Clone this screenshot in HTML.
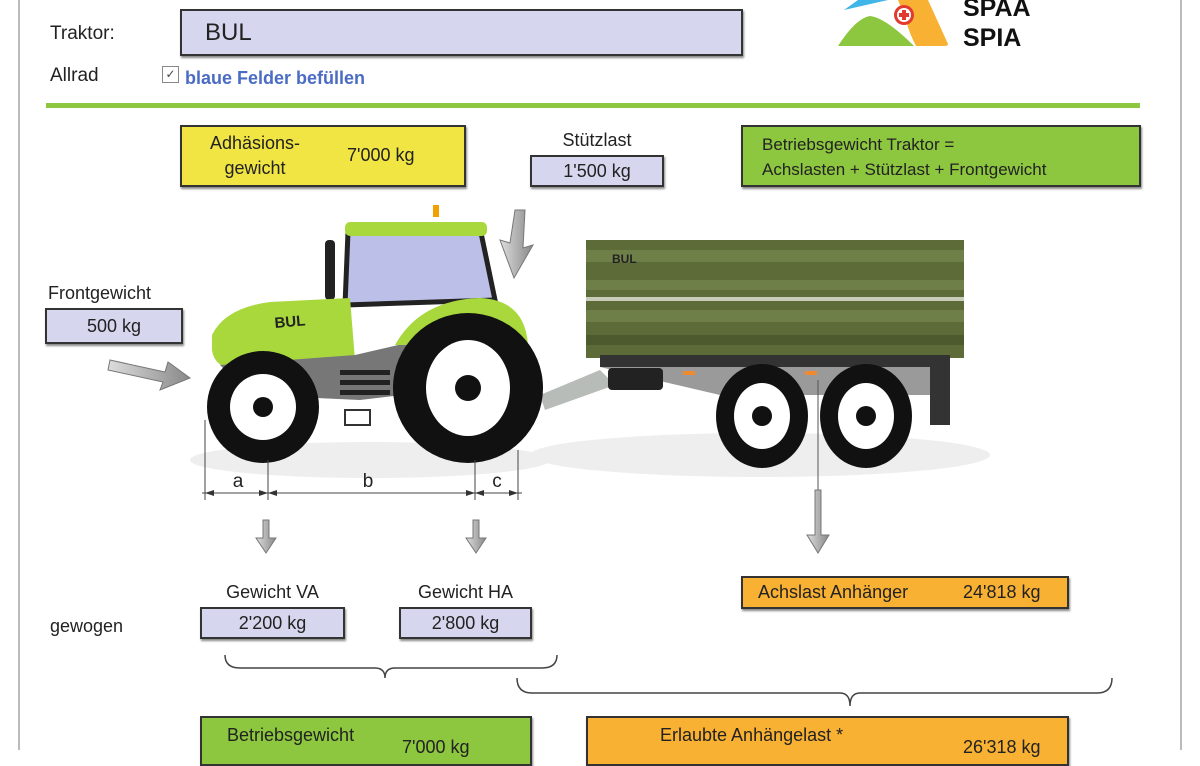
<!DOCTYPE html>
<html><head><meta charset="utf-8"><style>
body{margin:0;width:1200px;height:750px;background:#fff;overflow:hidden;position:relative;font-family:"Liberation Sans","DejaVu Sans",sans-serif;color:#222}
.a{position:absolute}
.box{position:absolute;border:2px solid #333;box-sizing:border-box;box-shadow:1px 2px 2px #888}
.lav{background:#d6d6ee}
.t{position:absolute;font-size:18px;white-space:nowrap}
.c{text-align:center}
</style></head><body>
<div class="a" style="left:18px;top:0;width:1160px;height:750px;border-left:2px solid #bbb;border-right:2px solid #bbb"></div>
<div class="t" style="left:50px;top:23px;font-size:19px">Traktor:</div>
<div class="box lav" style="left:180px;top:9px;width:563px;height:47px"></div>
<div class="t" style="left:205px;top:19px;font-size:24px">BUL</div>
<div class="t" style="left:50px;top:65px;font-size:19px">Allrad</div>
<div class="a" style="left:162px;top:66px;width:15px;height:15px;border:1px solid #888;font-size:12px;line-height:15px;text-align:center;color:#444">✓</div>
<div class="t" style="left:185px;top:68px;color:#4a6cc4;font-weight:bold;font-size:18px">blaue Felder befüllen</div>
<svg class="a" style="left:836px;top:0" width="220" height="50">
<path d="M2,46 Q20,18 34,16 Q50,18 78,46 Z" fill="#8dc63f"/>
<polygon points="8,10 22,0 52,0" fill="#3fb5e8"/>
<path d="M62,0 L92,0 L112,44 Q112,46 108,46 L80,46 Q72,30 70,20 Z" fill="#f8b133"/>
<circle cx="68" cy="15" r="10" fill="#e23a2e"/><circle cx="68" cy="15" r="7" fill="#fff"/>
<rect x="66" y="10" width="4" height="10" fill="#e23a2e"/><rect x="63" y="13" width="10" height="4" fill="#e23a2e"/>
<text x="127" y="16" font-family="Liberation Sans" font-weight="bold" font-size="25" fill="#111">SPAA</text>
<text x="127" y="46" font-family="Liberation Sans" font-weight="bold" font-size="25" fill="#111">SPIA</text>
</svg>
<div class="a" style="left:46px;top:103px;width:1094px;height:5px;background:#8dc63f"></div>

<div class="box" style="left:180px;top:125px;width:286px;height:62px;background:#f0e543"></div>
<div class="t c" style="left:200px;top:131px;width:110px;line-height:25px">Adhäsions-<br>gewicht</div>
<div class="t" style="left:347px;top:145px">7'000 kg</div>
<div class="t c" style="left:530px;top:130px;width:134px">Stützlast</div>
<div class="box lav" style="left:530px;top:155px;width:134px;height:32px"></div>
<div class="t c" style="left:530px;top:161px;width:134px">1'500 kg</div>
<div class="box" style="left:741px;top:125px;width:400px;height:62px;background:#8dc63f"></div>
<div class="t" style="left:762px;top:132px;font-size:17px;line-height:25px">Betriebsgewicht Traktor =<br>Achslasten + Stützlast + Frontgewicht</div>

<div class="t" style="left:48px;top:283px">Frontgewicht</div>
<div class="box lav" style="left:45px;top:308px;width:138px;height:36px"></div>
<div class="t c" style="left:45px;top:316px;width:138px">500 kg</div>

<svg class="a" style="left:0;top:0" width="1200" height="750">
<defs><linearGradient id="ga" x1="0" x2="1"><stop offset="0" stop-color="#ddd"/><stop offset="1" stop-color="#888"/></linearGradient></defs>
<polygon points="110,360 165,372 168,362 190,378 160,390 163,382 108,370" fill="url(#ga)" stroke="#777"/>
<polygon points="515,210 525,210 523,248 533,245 514,278 500,240 510,243" fill="url(#ga)" stroke="#777"/>
<ellipse cx="760" cy="455" rx="230" ry="22" fill="#eee"/>
<ellipse cx="370" cy="460" rx="180" ry="18" fill="#eee"/>
<rect x="586" y="240" width="378" height="118" fill="#5c6b38"/>
<rect x="586" y="250" width="378" height="12" fill="#6f7f48"/>
<rect x="586" y="280" width="378" height="10" fill="#6f7f48"/>
<rect x="586" y="297" width="378" height="4" fill="#c8ccb8"/>
<rect x="586" y="310" width="378" height="12" fill="#6f7f48"/>
<rect x="586" y="335" width="378" height="10" fill="#4d5a2e"/>
<text x="612" y="263" font-family="Liberation Sans" font-weight="bold" font-size="12" fill="#222">BUL</text>
<rect x="600" y="355" width="350" height="12" fill="#333"/>
<polygon points="600,367 950,367 940,395 720,395" fill="#9a9a9a"/>
<polygon points="540,395 600,370 615,385 545,410" fill="#b8bcb8"/>
<rect x="608" y="368" width="55" height="22" rx="4" fill="#222"/>
<rect x="930" y="365" width="20" height="60" fill="#333"/>
<rect x="683" y="371" width="12" height="4" fill="#f08a30"/><rect x="805" y="371" width="12" height="4" fill="#f08a30"/>
<ellipse cx="762" cy="416" rx="46" ry="52" fill="#111"/><ellipse cx="762" cy="416" rx="28" ry="33" fill="#fff"/><circle cx="762" cy="416" r="10" fill="#111"/>
<ellipse cx="866" cy="416" rx="46" ry="52" fill="#111"/><ellipse cx="866" cy="416" rx="28" ry="33" fill="#fff"/><circle cx="866" cy="416" r="10" fill="#111"/>
<line x1="818" y1="380" x2="818" y2="490" stroke="#555" stroke-width="1"/>
<rect x="325" y="240" width="10" height="60" rx="4" fill="#222"/>
<polygon points="348,232 480,228 495,300 345,305" fill="#bcc0e8" stroke="#222" stroke-width="5"/>
<rect x="345" y="222" width="142" height="14" rx="5" fill="#a8d83c"/>
<rect x="433" y="205" width="6" height="12" fill="#f0a000"/>
<path d="M212,335 Q225,308 270,302 L350,298 L355,360 L240,372 Q214,368 212,350 Z" fill="#a8d83c"/>
<polygon points="220,365 355,355 420,340 520,330 530,380 360,400 250,395" fill="#777"/>
<path d="M395,345 Q420,300 480,298 Q525,300 528,345 Z" fill="#a8d83c"/>
<rect x="340" y="380" width="50" height="5" fill="#222"/><rect x="340" y="390" width="50" height="5" fill="#222"/><rect x="340" y="370" width="50" height="5" fill="#222"/>
<rect x="345" y="410" width="25" height="15" fill="none" stroke="#333" stroke-width="2"/>
<text x="275" y="328" font-family="Liberation Sans" font-weight="bold" font-size="15" fill="#222" transform="rotate(-5 275 328)">BUL</text>
<circle cx="263" cy="407" r="56" fill="#111"/><circle cx="263" cy="407" r="33" fill="#fff"/><circle cx="263" cy="407" r="10" fill="#111"/>
<circle cx="468" cy="388" r="75" fill="#111"/><ellipse cx="468" cy="388" rx="42" ry="48" fill="#fff"/><circle cx="468" cy="388" r="13" fill="#111"/>
<g stroke="#444" stroke-width="1" fill="none">
<line x1="205" y1="420" x2="205" y2="500"/><line x1="268" y1="460" x2="268" y2="500"/>
<line x1="475" y1="460" x2="475" y2="500"/><line x1="518" y1="450" x2="518" y2="500"/>
<line x1="202" y1="493" x2="522" y2="493"/>
</g>
<g fill="#333">
<polygon points="205,493 214,490 214,496"/><polygon points="268,493 259,490 259,496"/><polygon points="268,493 277,490 277,496"/>
<polygon points="475,493 466,490 466,496"/><polygon points="475,493 484,490 484,496"/><polygon points="518,493 509,490 509,496"/>
</g>
<text x="238" y="487" font-size="19" text-anchor="middle" font-family="Liberation Sans" fill="#222">a</text>
<text x="368" y="487" font-size="19" text-anchor="middle" font-family="Liberation Sans" fill="#222">b</text>
<text x="497" y="487" font-size="19" text-anchor="middle" font-family="Liberation Sans" fill="#222">c</text>
<g fill="url(#ga)" stroke="#777">
<polygon points="263,520 269,520 269,538 276,538 266,553 256,538 263,538"/>
<polygon points="473,520 479,520 479,538 486,538 476,553 466,538 473,538"/>
<polygon points="815,490 821,490 821,535 829,535 818,553 807,535 815,535"/>
</g>
<path d="M225,655 Q225,668 240,668 L375,668 Q385,668 385,678 Q385,668 395,668 L542,668 Q557,668 557,655" stroke="#444" stroke-width="1.5" fill="none"/>
<path d="M517,678 Q517,693 532,693 L840,693 Q850,693 850,706 Q850,693 860,693 L1097,693 Q1112,693 1112,678" stroke="#444" stroke-width="1.5" fill="none"/>
</svg>

<div class="t c" style="left:200px;top:582px;width:145px">Gewicht VA</div>
<div class="t c" style="left:399px;top:582px;width:133px">Gewicht HA</div>
<div class="t" style="left:50px;top:616px">gewogen</div>
<div class="box lav" style="left:200px;top:607px;width:145px;height:32px"></div>
<div class="t c" style="left:200px;top:613px;width:145px">2'200 kg</div>
<div class="box lav" style="left:399px;top:607px;width:133px;height:32px"></div>
<div class="t c" style="left:399px;top:613px;width:133px">2'800 kg</div>
<div class="box" style="left:741px;top:576px;width:328px;height:33px;background:#f8b133"></div>
<div class="t" style="left:758px;top:582px">Achslast Anhänger</div>
<div class="t" style="left:963px;top:582px">24'818 kg</div>

<div class="box" style="left:200px;top:716px;width:332px;height:50px;background:#8dc63f"></div>
<div class="t" style="left:227px;top:725px">Betriebsgewicht</div>
<div class="t" style="left:402px;top:737px">7'000 kg</div>
<div class="box" style="left:586px;top:716px;width:483px;height:50px;background:#f8b133"></div>
<div class="t" style="left:660px;top:725px">Erlaubte Anhängelast *</div>
<div class="t" style="left:963px;top:737px">26'318 kg</div>
</body></html>
